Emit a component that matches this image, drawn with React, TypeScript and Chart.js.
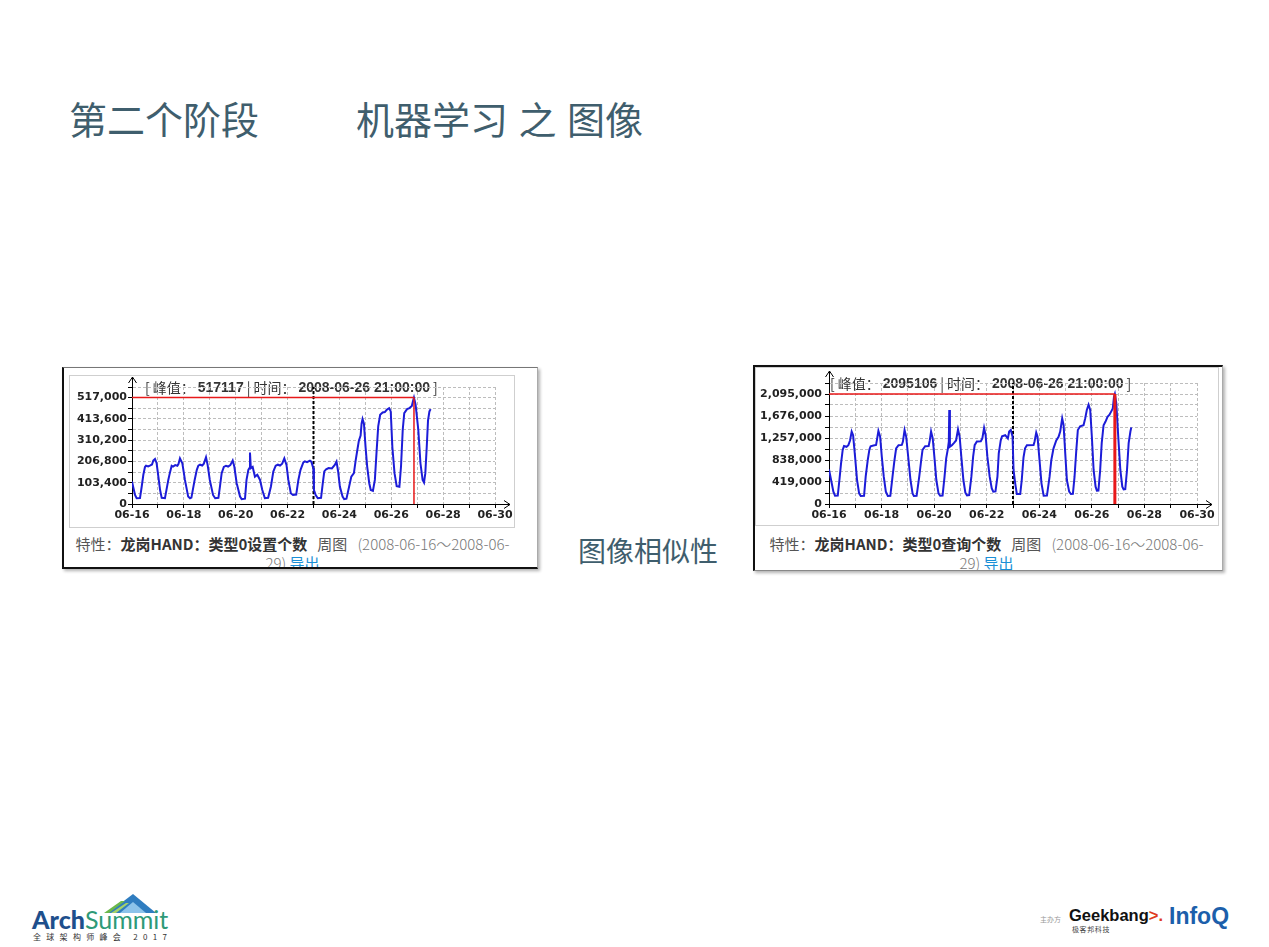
import React, { useEffect, useRef } from 'react';
import { Chart, registerables } from 'chart.js';

Chart.register(...registerables);

// ---------- data ----------
const xTickHours = [0, 24, 48, 72, 96, 120, 144, 168, 192, 216, 240, 264, 288, 312, 336];
const xTickLabels = ['06-16', '', '06-18', '', '06-20', '', '06-22', '', '06-24', '', '06-26', '', '06-28', '', '06-30'];

const leftYTicks = [0, 51700, 103400, 155100, 206800, 258500, 310200, 361900, 413600, 465300, 517000, 568700];
const leftYTickLabels = ['0', '', '103,400', '', '206,800', '', '310,200', '', '413,600', '', '517,000', ''];
const rightYTicks = [0, 209500, 419000, 628500, 838000, 1047500, 1257000, 1466500, 1676000, 1885500, 2095000, 2304500];
const rightYTickLabels = ['0', '', '419,000', '', '838,000', '', '1,257,000', '', '1,676,000', '', '2,095,000', ''];

const splitHour = 168;
const peakTimeLabel = '2008-06-26 21:00:00';
const leftPeak = { hour: 261, value: 517117 };
const rightPeak = { hour: 261, value: 2095106 };

const leftHours = [
  0, 1, 2.8, 4.3, 7.4, 9, 10.5, 12, 13, 15, 17, 18.5, 19.7, 21.3, 22.8,
  24.4, 26, 27.5, 30.5, 33.6, 35, 36.7, 38, 40, 42, 43, 44.4, 46.6,
  49, 52, 53.7, 55, 58, 60, 61.4, 63, 65, 66.5, 68.5, 70,
  72, 75, 77, 80, 81.4, 83, 85, 87, 89, 91, 93.2, 94.7,
  96.9, 100, 101.5, 104.6, 106, 107.7, 108.6, 109.2, 110, 111.7, 113.8, 116, 118.5,
  120.6, 123, 126, 128.6, 130.8, 133, 135, 137, 139, 141, 143,
  144.7, 147, 149, 152, 154, 156, 158.6, 160, 162, 164.7, 166, 167.8,
  168.4, 170, 172, 175, 176.6, 178, 179.7, 182, 185, 187.7, 189.3, 190.8,
  192.4, 194.9, 196.4, 198.5, 201, 203, 205.4, 207, 208.5, 210, 211.6, 212.5, 213.4, 214.7,
  216.2, 217.7, 219.6, 221, 223, 224.8, 226.3, 227.9, 229.7, 232, 234, 235.8, 238, 239.5,
  241, 243, 245, 247.5, 249, 250.6, 252, 254.6, 256.8, 259, 260, 261,
  262.5, 264, 265, 267, 269, 270.3, 271.5, 272.8, 274, 275.3, 276.4,
];
const leftValues = [
  109000, 85000, 44000, 28000, 29000, 85000, 142000, 180000, 186000, 183000, 188000, 192000, 211000, 219000, 198000,
  133000, 68000, 30000, 28000, 117000, 150000, 186000, 182000, 189000, 186000, 194000, 222000, 198000,
  117000, 36000, 28000, 31000, 117000, 166000, 186000, 191000, 187000, 196000, 227000, 190000,
  117000, 44000, 28000, 30000, 85000, 150000, 180000, 186000, 182000, 189000, 211000, 182000,
  101000, 36000, 24000, 26000, 117000, 166000, 174000, 250000, 174000, 180000, 133000, 142000, 117000,
  68000, 28000, 30000, 85000, 158000, 186000, 191000, 187000, 196000, 222000, 190000,
  117000, 52000, 44000, 46000, 117000, 166000, 202000, 207000, 203000, 211000, 206000, 174000,
  68000, 44000, 28000, 30000, 101000, 158000, 169000, 175000, 173000, 190000, 206000, 158000,
  85000, 36000, 24000, 26000, 85000, 133000, 150000, 211000, 260000, 308000, 333000, 390000, 413000, 390000,
  276000, 182000, 101000, 68000, 64000, 117000, 247000, 377000, 434000, 445000, 447000, 458000, 466000, 450000,
  276000, 150000, 87000, 84000, 182000, 361000, 442000, 461000, 466000, 476000, 498000, 517117,
  483000, 410000, 361000, 198000, 117000, 104000, 150000, 276000, 406000, 450000, 461000,
];

const rightHours = [
  0, 1.9, 4, 5.5, 8, 9.5, 11, 12.5, 13.7, 16, 17.7, 19.2, 20.7, 22, 23.8,
  25.6, 27.5, 29, 32, 33.5, 35.4, 36.9, 38, 40.6, 43, 44, 45.1, 46.7,
  48.2, 50, 51.9, 53.7, 56, 58, 59.8, 61.3, 63.5, 66.5, 67.5, 69, 70.5,
  72.6, 74.4, 76.3, 77.5, 80, 82.4, 84.2, 85.4, 87.8, 91, 92, 93.2, 94.7,
  96.2, 98, 100, 101.5, 103.7, 105.5, 107, 108.6, 109.4, 109.8, 110.4, 112.2, 114, 116, 117.8, 119.3,
  120.8, 122.7, 124.5, 126, 128, 130, 131.6, 133, 135, 138.6, 140, 141.6, 143,
  144.6, 146.7, 148.6, 150, 152, 153.8, 155, 156.8, 158, 160.9, 163.3, 164.5, 166, 167.6,
  168.5, 170, 171.5, 174.6, 176, 177.6, 179, 180.7, 186.8, 187.7, 189.2, 190.4,
  192.2, 194, 196, 199, 201.4, 203, 205, 207.5, 209.6, 211.1, 212.9, 214.2,
  215.7, 217.2, 219.3, 220.9, 222.7, 224.2, 225.7, 227.2, 229.3, 232.4, 233.9, 235.4, 237, 238.5,
  240, 241.6, 243.4, 244.6, 246, 247.6, 249, 250.7, 252.5, 254.3, 256.1, 257.6, 259.1, 260.2, 261,
  262.3, 264.1, 266, 267.8, 269, 270.5, 272.1, 273.6, 275.2, 276,
];
const rightValues = [
  660000, 457000, 235000, 158000, 160000, 457000, 774000, 1030000, 1104000, 1090000, 1120000, 1210000, 1380000, 1310000, 901000,
  457000, 203000, 152000, 155000, 520000, 838000, 1040000, 1100000, 1115000, 1125000, 1250000, 1390000, 1280000,
  901000, 520000, 235000, 152000, 155000, 520000, 838000, 1060000, 1120000, 1125000, 1190000, 1410000, 1280000,
  838000, 457000, 203000, 152000, 155000, 520000, 838000, 1030000, 1100000, 1105000, 1210000, 1380000, 1250000,
  901000, 457000, 203000, 158000, 160000, 520000, 870000, 1060000, 1190000, 1790000, 1090000, 1120000, 1160000, 1210000, 1420000, 1280000,
  901000, 457000, 216000, 165000, 168000, 520000, 901000, 1120000, 1190000, 1195000, 1250000, 1450000, 1310000,
  901000, 520000, 298000, 235000, 240000, 520000, 965000, 1210000, 1290000, 1310000, 1250000, 1380000, 1410000, 1280000,
  648000, 393000, 190000, 192000, 457000, 889000, 1060000, 1120000, 1125000, 1190000, 1360000, 1280000,
  838000, 393000, 158000, 160000, 520000, 838000, 1060000, 1210000, 1280000, 1380000, 1630000, 1500000,
  965000, 457000, 235000, 190000, 192000, 520000, 996000, 1410000, 1480000, 1500000, 1630000, 1790000, 1890000, 1790000,
  1280000, 648000, 330000, 254000, 256000, 648000, 1160000, 1500000, 1570000, 1660000, 1700000, 1760000, 1820000, 2040000, 2095106,
  1920000, 1280000, 648000, 330000, 279000, 285000, 648000, 1160000, 1380000, 1460000,
];

const leftCaptionName = '龙岗HAND：类型0设置个数';
const rightCaptionName = '龙岗HAND：类型0查询个数';
const captionRange = '(2008-06-16～2008-06-';

// ---------- styles ----------
const TITLE_COLOR = '#3f5e6d';
const TICK_FONT = { family: '"DejaVu Sans", Verdana, sans-serif', size: 11, weight: 'bold' as const };

const decorPlugin = {
  id: 'decor',
  beforeDraw(chart: any, _args: any, opts: any) {
    const { ctx, chartArea } = chart;
    let x = chartArea.left + opts.textOffset;
    const y = chartArea.top + 1;
    ctx.save();
    ctx.textBaseline = 'middle';
    ctx.fillStyle = '#333';
    for (const [t, bold] of opts.segments) {
      ctx.font = bold
        ? 'bold 14px "Liberation Sans", Arial, sans-serif'
        : '14px "Noto Sans CJK SC", sans-serif';
      ctx.fillText(t, x, y);
      x += ctx.measureText(t).width + opts.gap;
    }
    ctx.restore();
  },
  afterDraw(chart: any, _args: any, opts: any) {
    const { ctx, chartArea } = chart;
    const ax = Math.round(chartArea.left) + 0.5;
    const ay = Math.round(chartArea.bottom) + 0.5;
    const tipY = chartArea.top - opts.arrowUp;
    const tipX = chartArea.right + 15;
    ctx.save();
    ctx.strokeStyle = '#000';
    ctx.lineWidth = 1;
    ctx.beginPath();
    ctx.moveTo(ax, chartArea.top);
    ctx.lineTo(ax, tipY);
    ctx.moveTo(ax - 4, tipY + 6);
    ctx.lineTo(ax, tipY);
    ctx.lineTo(ax + 4, tipY + 6);
    ctx.moveTo(chartArea.right, ay);
    ctx.lineTo(tipX, ay);
    ctx.moveTo(tipX - 6, ay - 4);
    ctx.lineTo(tipX, ay);
    ctx.lineTo(tipX - 6, ay + 4);
    ctx.stroke();
    ctx.restore();
  },
};

type MiniProps = {
  width: number;
  height: number;
  hours: number[];
  values: number[];
  yTicks: number[];
  yTickLabels: string[];
  peak: { hour: number; value: number };
  yAxisWidth: number;
  xAxisHeight: number;
  padTop: number;
  padRight: number;
  yLabelPad: number;
  textOffset: number;
  arrowUp: number;
  peakVWidth: number;
};

function MiniChart(p: MiniProps) {
  const ref = useRef<HTMLCanvasElement>(null);
  useEffect(() => {
    const ymax = p.yTicks[p.yTicks.length - 1];
    const xmin = xTickHours[0];
    const xmax = xTickHours[xTickHours.length - 1];
    const chart = new Chart(ref.current as HTMLCanvasElement, {
      type: 'line',
      data: {
        datasets: [
          {
            data: [{ x: p.peak.hour, y: p.peak.value }, { x: p.peak.hour, y: 0 }],
            borderColor: '#e8191a',
            borderWidth: p.peakVWidth,
            pointRadius: 0,
          },
          {
            data: [{ x: xmin, y: p.peak.value }, { x: p.peak.hour, y: p.peak.value }],
            borderColor: '#e8191a',
            borderWidth: 1.5,
            pointRadius: 0,
          },
          {
            data: p.hours.map((h, i) => ({ x: h, y: p.values[i] })),
            borderColor: '#1c1cd8',
            borderWidth: 2,
            pointRadius: 0,
            tension: 0,
          },
          {
            data: [{ x: splitHour, y: 0 }, { x: splitHour, y: ymax }],
            borderColor: '#000',
            borderWidth: 2,
            borderDash: [3, 2],
            pointRadius: 0,
          },
        ] as any,
      },
      options: {
        responsive: false,
        animation: false,
        devicePixelRatio: 1,
        events: [],
        layout: { padding: { top: p.padTop, right: p.padRight, left: 0, bottom: 0 } },
        plugins: {
          legend: { display: false },
          tooltip: { enabled: false },
          decor: {
            textOffset: p.textOffset,
            gap: 3,
            arrowUp: p.arrowUp,
            segments: [
              ['[', false],
              ['峰值：', false],
              [String(p.peak.value), true],
              ['|', false],
              ['时间：', false],
              [peakTimeLabel, true],
              [']', false],
            ],
          },
        } as any,
        scales: {
          x: {
            type: 'linear',
            min: xmin,
            max: xmax,
            afterBuildTicks: (s: any) => {
              s.ticks = xTickHours.map((v) => ({ value: v }));
            },
            afterFit: (s: any) => {
              s.height = p.xAxisHeight;
            },
            ticks: {
              autoSkip: false,
              maxRotation: 0,
              minRotation: 0,
              padding: 1,
              color: '#222',
              font: TICK_FONT,
              callback: (_v: any, i: number) => xTickLabels[i],
            },
            grid: { color: '#bdbdbd', lineWidth: 1, tickColor: '#000', tickLength: 4 },
            border: { display: true, color: '#000', width: 1, dash: [3, 2] },
          },
          y: {
            type: 'linear',
            min: 0,
            max: ymax,
            afterBuildTicks: (s: any) => {
              s.ticks = p.yTicks.map((v) => ({ value: v }));
            },
            afterFit: (s: any) => {
              s.width = p.yAxisWidth;
            },
            ticks: {
              autoSkip: false,
              padding: p.yLabelPad,
              color: '#222',
              font: TICK_FONT,
              callback: (_v: any, i: number) => p.yTickLabels[i],
            },
            grid: { color: '#bdbdbd', lineWidth: 1, tickColor: '#000', tickLength: 4 },
            border: { display: true, color: '#000', width: 1, dash: [3, 2] },
          },
        } as any,
      },
      plugins: [decorPlugin as any],
    });
    return () => chart.destroy();
  }, []);
  return (
    <canvas
      ref={ref}
      width={p.width}
      height={p.height}
      style={{ display: 'block', width: p.width, height: p.height }}
    />
  );
}

function Caption({ name, left, top, width }: { name: string; left: number; top: number; width: number }) {
  return (
    <div
      style={{
        position: 'absolute',
        left,
        top,
        width,
        textAlign: 'center',
        fontSize: 15,
        lineHeight: '19px',
        whiteSpace: 'nowrap',
        color: '#555',
      }}
    >
      <div>
        <span>特性：</span>
        <span style={{ fontWeight: 700, color: '#333' }}>{name}</span>
        <span style={{ marginLeft: 10 }}>周图</span>
        <span style={{ marginLeft: 10, color: '#777', fontWeight: 300 }}>{captionRange}</span>
      </div>
      <div style={{ color: '#777', fontWeight: 300 }}>
        29) <span style={{ color: '#1a8fd6', fontWeight: 400 }}>导出</span>
      </div>
    </div>
  );
}

export default function App() {
  return (
    <div
      style={{
        position: 'absolute',
        left: 0,
        top: 0,
        width: 1269,
        height: 947,
        background: '#fff',
        overflow: 'hidden',
        fontFamily: '"Noto Sans CJK SC", "Noto Sans", sans-serif',
      }}
    >
      {/* titles */}
      <div style={{ position: 'absolute', left: 69, top: 99, fontSize: 38, lineHeight: '38px', color: TITLE_COLOR, whiteSpace: 'nowrap' }}>
        第二个阶段
      </div>
      <div style={{ position: 'absolute', left: 356, top: 99, fontSize: 38, lineHeight: '38px', color: TITLE_COLOR, whiteSpace: 'pre', wordSpacing: 2 }}>
        机器学习 之 图像
      </div>
      <div style={{ position: 'absolute', left: 578, top: 536, fontSize: 28, lineHeight: '28px', color: TITLE_COLOR, whiteSpace: 'nowrap' }}>
        图像相似性
      </div>

      {/* left chart frame */}
      <div
        style={{
          position: 'absolute',
          left: 62,
          top: 367,
          width: 476,
          height: 202,
          boxSizing: 'border-box',
          borderLeft: '2px solid #111',
          borderBottom: '2px solid #111',
          borderTop: '1px solid #777',
          borderRight: '1px solid #aaa',
          boxShadow: '2px 2px 3px rgba(0,0,0,0.3)',
          overflow: 'hidden',
          background: '#fff',
        }}
      >
        <div
          style={{
            position: 'absolute',
            left: 5,
            top: 7,
            width: 446,
            height: 153,
            boxSizing: 'border-box',
            border: '1px solid #cfcfcf',
          }}
        >
          <MiniChart
            width={444}
            height={151}
            hours={leftHours}
            values={leftValues}
            yTicks={leftYTicks}
            yTickLabels={leftYTickLabels}
            peak={leftPeak}
            yAxisWidth={62}
            xAxisHeight={23}
            padTop={11}
            padRight={19}
            yLabelPad={1}
            textOffset={13}
            arrowUp={10}
            peakVWidth={1.5}
          />
        </div>
        <Caption name={leftCaptionName} left={7} top={166} width={443} />
      </div>

      {/* right chart frame */}
      <div
        style={{
          position: 'absolute',
          left: 753,
          top: 365,
          width: 470,
          height: 206,
          boxSizing: 'border-box',
          borderLeft: '2px solid #111',
          borderTop: '2px solid #111',
          borderBottom: '1px solid #888',
          borderRight: '1px solid #aaa',
          boxShadow: '2px 2px 3px rgba(0,0,0,0.3)',
          overflow: 'hidden',
          background: '#fff',
        }}
      >
        <div
          style={{
            position: 'absolute',
            left: 0,
            top: 0,
            width: 464,
            height: 159,
            boxSizing: 'border-box',
            border: '1px solid #cfcfcf',
          }}
        >
          <MiniChart
            width={462}
            height={157}
            hours={rightHours}
            values={rightValues}
            yTicks={rightYTicks}
            yTickLabels={rightYTickLabels}
            peak={rightPeak}
            yAxisWidth={73}
            xAxisHeight={21}
            padTop={15}
            padRight={21}
            yLabelPad={3}
            textOffset={1}
            arrowUp={12}
            peakVWidth={3}
          />
        </div>
        <Caption name={rightCaptionName} left={3} top={167} width={457} />
      </div>

      {/* ArchSummit logo */}
      <svg style={{ position: 'absolute', left: 104, top: 892 }} width={54} height={22}>
        <polygon points="4,21 29,2 52,21" fill="#2f7dc0" />
        <polygon points="16,21 29,10 42,21" fill="#8cc3ea" />
        <polygon points="0,21 17,9 21,9 5,21" fill="#6cb84a" />
        <polygon points="7,21 22,11 25,11 12,21" fill="#a6d36a" />
      </svg>
      <div style={{ position: 'absolute', left: 32, top: 908, fontFamily: 'Lato, "Open Sans", sans-serif', fontSize: 25, lineHeight: '22px', whiteSpace: 'nowrap' }}>
        <span style={{ color: '#1e4f8c', fontWeight: 900 }}>Arch</span>
        <span style={{ color: '#2e9a78', fontWeight: 400 }}>Summit</span>
      </div>
      <div style={{ position: 'absolute', left: 33, top: 932, fontSize: 8, lineHeight: '9px', letterSpacing: '5.3px', color: '#333', whiteSpace: 'pre' }}>
        全球架构师峰会 2017
      </div>

      {/* Geekbang / InfoQ */}
      <div style={{ position: 'absolute', left: 1040, top: 915, fontSize: 7, lineHeight: '8px', color: '#999' }}>主办方</div>
      <div style={{ position: 'absolute', left: 1069, top: 906, fontFamily: '"Liberation Sans", Arial, sans-serif', fontWeight: 700, fontSize: 16.5, lineHeight: '18px', color: '#111', whiteSpace: 'nowrap' }}>
        Geekbang<span style={{ color: '#e03a1e' }}>&gt;.</span>
      </div>
      <div style={{ position: 'absolute', left: 1072, top: 925, fontSize: 7, lineHeight: '8px', letterSpacing: '0.6px', color: '#444' }}>极客邦科技</div>
      <div style={{ position: 'absolute', left: 1169, top: 903, fontFamily: '"Liberation Sans", Arial, sans-serif', fontWeight: 700, fontSize: 23, lineHeight: '26px', color: '#1c5fab', whiteSpace: 'nowrap' }}>
        InfoQ
      </div>
    </div>
  );
}
